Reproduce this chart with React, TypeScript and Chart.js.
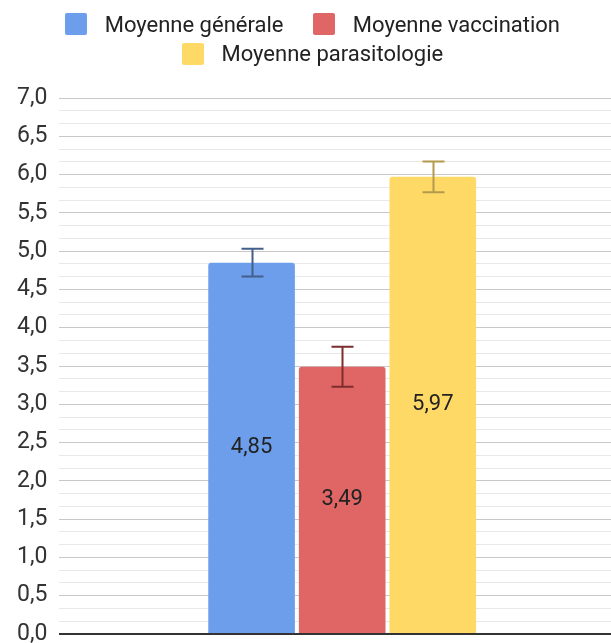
import React, { useEffect, useRef } from "react";
import { Chart, registerables } from "chart.js";

Chart.register(...registerables);

const categories = [""];
const seriesNames = ["Moyenne générale", "Moyenne vaccination", "Moyenne parasitologie"];
const meanValues = [4.85, 3.49, 5.97];
const errorValues = [0.18, 0.26, 0.2];
const yTickLabels = ["0,0", "0,5", "1,0", "1,5", "2,0", "2,5", "3,0", "3,5", "4,0", "4,5", "5,0", "5,5", "6,0", "6,5", "7,0"];

const barColors = ["#6d9eeb", "#e06666", "#ffd966"];
const errorColors = ["#435f8c", "#7d2d2d", "#b39a4c"];
const FONT = "Roboto";

const fmt = (v: number) => v.toFixed(2).replace(".", ",");

const errorBarPlugin = {
  id: "errorBars",
  afterDatasetsDraw(chart: any) {
    const ctx = chart.ctx;
    const y = chart.scales.y;
    chart.data.datasets.forEach((ds: any, i: number) => {
      const meta = chart.getDatasetMeta(i);
      meta.data.forEach((bar: any, j: number) => {
        const v = ds.data[j];
        const e = ds.errors[j];
        const x = Math.round(bar.x) + 0.5;
        const top = y.getPixelForValue(v + e);
        const bot = y.getPixelForValue(v - e);
        ctx.save();
        ctx.strokeStyle = ds.errorColor;
        ctx.lineWidth = 2;
        ctx.beginPath();
        ctx.moveTo(x, top);
        ctx.lineTo(x, bot);
        ctx.moveTo(x - 11, top);
        ctx.lineTo(x + 11, top);
        ctx.moveTo(x - 11, bot);
        ctx.lineTo(x + 11, bot);
        ctx.stroke();
        ctx.restore();
      });
    });
  },
};

const valueLabelPlugin = {
  id: "valueLabels",
  afterDatasetsDraw(chart: any) {
    const ctx = chart.ctx;
    chart.data.datasets.forEach((ds: any, i: number) => {
      const meta = chart.getDatasetMeta(i);
      meta.data.forEach((bar: any, j: number) => {
        ctx.save();
        ctx.font = `22px ${FONT}`;
        ctx.fillStyle = "#222222";
        ctx.textAlign = "center";
        ctx.textBaseline = "middle";
        ctx.fillText(fmt(ds.data[j]), bar.x, (bar.y + bar.base) / 2);
        ctx.restore();
      });
    });
  },
};

export default function App() {
  const ref = useRef<HTMLCanvasElement>(null);

  useEffect(() => {
    if (!ref.current) return;
    const chart = new Chart(ref.current, {
      type: "bar",
      data: {
        labels: categories,
        datasets: seriesNames.map((name, i) => ({
          label: name,
          data: [meanValues[i]],
          errors: [errorValues[i]],
          errorColor: errorColors[i],
          backgroundColor: barColors[i],
          borderRadius: { topLeft: 3, topRight: 3, bottomLeft: 0, bottomRight: 0 },
          borderSkipped: false,
          categoryPercentage: 0.4806,
          barPercentage: 0.956,
        })) as any,
      },
      options: {
        responsive: false,
        animation: false,
        layout: { padding: { top: 98, bottom: 26, left: 5, right: 0 } },
        plugins: { legend: { display: false }, tooltip: { enabled: false } },
        scales: {
          x: { display: false },
          y: {
            min: 0,
            max: 7,
            afterBuildTicks(scale: any) {
              const t = [];
              for (let k = 0; k <= 42; k++) t.push({ value: k / 6 });
              scale.ticks = t;
            },
            border: { display: false },
            grid: {
              drawTicks: false,
              color: (c: any) => {
                const k = Math.round(c.tick.value * 6);
                if (k === 0) return "#333333";
                return k % 3 === 0 ? "#c8c8c8" : "#e8e8e8";
              },
              lineWidth: (c: any) => (Math.round(c.tick.value * 6) === 0 ? 2 : 1),
            },
            ticks: {
              autoSkip: false,
              padding: 12,
              color: "#333333",
              font: { family: FONT, size: 23 },
              callback: (v: any) => {
                const k = Math.round(Number(v) * 6);
                return k % 3 === 0 ? yTickLabels[k / 3] : "";
              },
            },
          },
        },
      },
      plugins: [errorBarPlugin, valueLabelPlugin],
    });
    return () => chart.destroy();
  }, []);

  return (
    <div style={{ position: "absolute", left: 0, top: 0, width: 611, height: 643, overflow: "hidden", background: "#fff" }}>
      <canvas ref={ref} width={625} height={660} style={{ position: "absolute", left: 0, top: 0, display: "block" }} />
      <div
        style={{
          position: "absolute",
          left: 0,
          top: 9.5,
          width: 625,
          display: "flex",
          flexWrap: "wrap",
          justifyContent: "center",
          columnGap: 29.7,
          fontFamily: FONT,
          fontSize: 22,
          color: "#222222",
        }}
      >
        {seriesNames.map((name, i) => (
          <div key={name} style={{ display: "flex", alignItems: "center", height: 29.5 }}>
            <span style={{ width: 22, height: 22, borderRadius: 2, background: barColors[i], marginRight: 17.7, display: "inline-block" }} />
            <span style={{ whiteSpace: "nowrap" }}>{name}</span>
          </div>
        ))}
      </div>
    </div>
  );
}
